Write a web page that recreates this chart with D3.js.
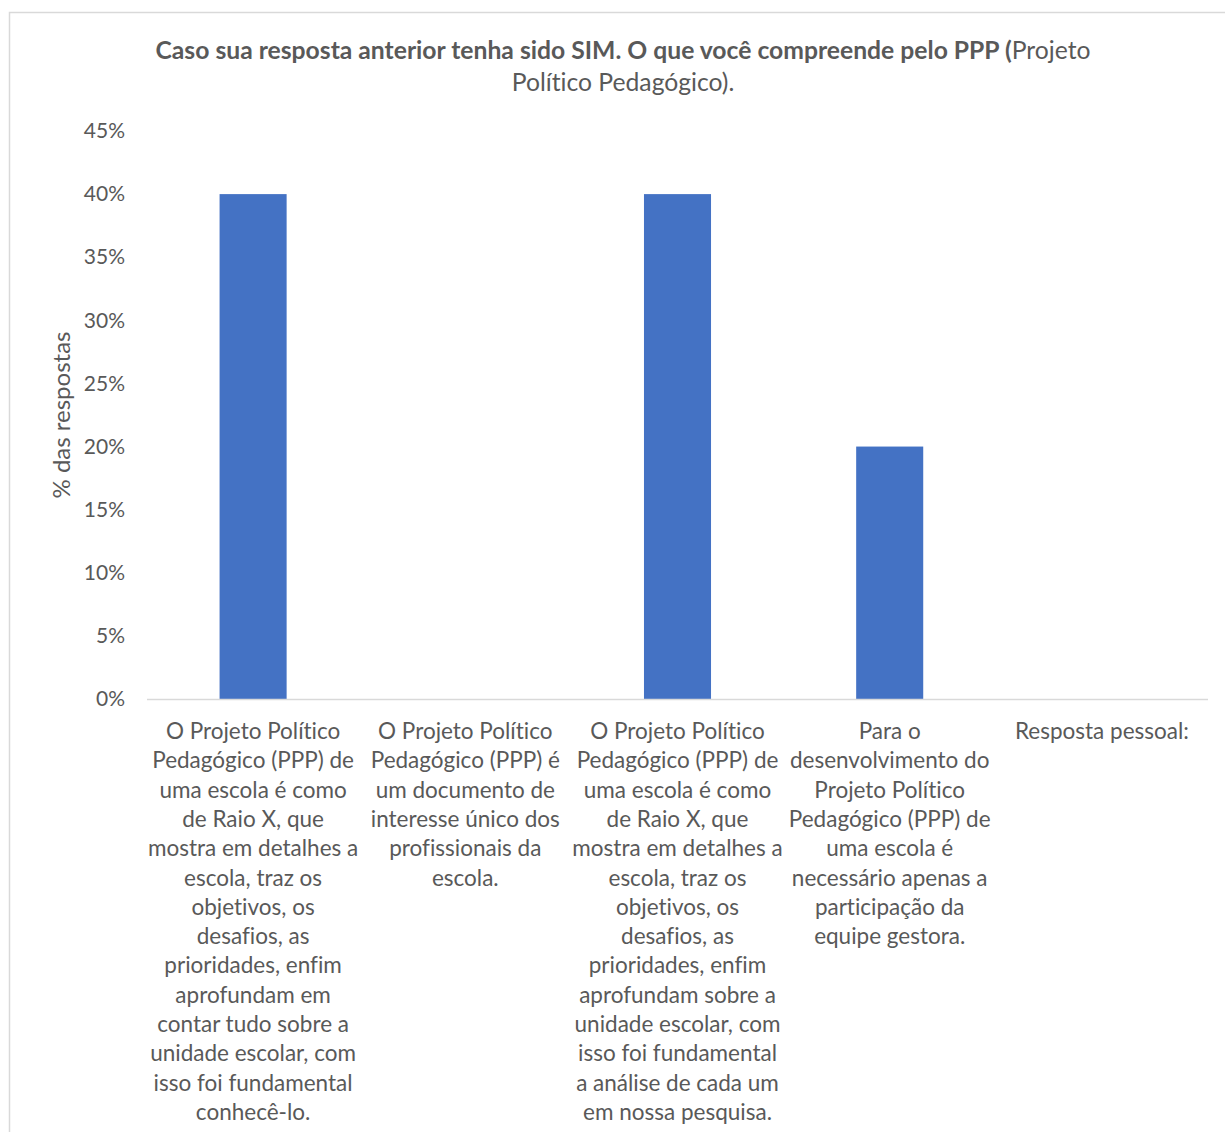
<!DOCTYPE html>
<html>
<head>
<meta charset="utf-8">
<script src="https://cdn.jsdelivr.net/npm/d3@7"></script>
<style>
  body { margin: 0; background: #fff; }
  svg { display: block; font-family: Lato, "Open Sans", sans-serif; font-variant-ligatures: none; }
</style>
</head>
<body>
<svg id="chart" width="1225" height="1132"></svg>
<script>
// Answer categories (wrapped lines as shown under each bar)
const categories = [
  ["O Projeto Político", "Pedagógico (PPP) de", "uma escola é como", "de Raio X, que", "mostra em detalhes a", "escola, traz os", "objetivos, os", "desafios, as", "prioridades, enfim", "aprofundam em", "contar tudo sobre a", "unidade escolar, com", "isso foi fundamental", "conhecê-lo."],
  ["O Projeto Político", "Pedagógico (PPP) é", "um documento de", "interesse único dos", "profissionais da", "escola."],
  ["O Projeto Político", "Pedagógico (PPP) de", "uma escola é como", "de Raio X, que", "mostra em detalhes a", "escola, traz os", "objetivos, os", "desafios, as", "prioridades, enfim", "aprofundam sobre a", "unidade escolar, com", "isso foi fundamental", "a análise de cada um", "em nossa pesquisa."],
  ["Para o", "desenvolvimento do", "Projeto Político", "Pedagógico (PPP) de", "uma escola é", "necessário apenas a", "participação da", "equipe gestora."],
  ["Resposta pessoal:"]
];
// Share of responses (%)
const values = [40, 0, 40, 20, 0];
const yTicks = [0, 5, 10, 15, 20, 25, 30, 35, 40, 45];
const titleBold = "Caso sua resposta anterior tenha sido SIM. O que você compreende pelo PPP (";
const titleRest1 = "Projeto";
const titleLine2 = "Político Pedagógico).";
const yTitle = "% das respostas";

const svg = d3.select("#chart");
const textColor = "#595959";
const plot = { left: 147, right: 1208, top: 131, bottom: 699 };

// Chart frame
svg.append("rect")
  .attr("x", 9.5).attr("y", 12.5)
  .attr("width", 1240).attr("height", 1140)
  .attr("fill", "#fff").attr("stroke", "#d9d9d9").attr("stroke-width", 1.5);

const idx = categories.map((_, i) => i);
const x = d3.scaleBand().domain(idx).range([plot.left, plot.right]).padding(0);
const y = d3.scaleLinear().domain([0, 45]).range([plot.bottom, plot.top]);
const barW = x.bandwidth() * 0.316;

// Bars
svg.append("g").selectAll("rect")
  .data(values)
  .join("rect")
  .attr("x", (d, i) => x(i) + (x.bandwidth() - barW) / 2)
  .attr("y", d => y(d))
  .attr("width", barW)
  .attr("height", d => y(0) - y(d))
  .attr("fill", "#4472C4");

// Category axis baseline
svg.append("line")
  .attr("x1", plot.left).attr("x2", plot.right)
  .attr("y1", y(0) + 0.5).attr("y2", y(0) + 0.5)
  .attr("stroke", "#d9d9d9").attr("stroke-width", 1.5);

// Value axis
const yAxis = svg.append("g")
  .attr("transform", `translate(${plot.left - 22},0)`)
  .call(d3.axisLeft(y).tickValues(yTicks).tickFormat(d => d + "%").tickSize(0).tickPadding(0));
yAxis.select(".domain").remove();
yAxis.selectAll("text")
  .attr("fill", textColor)
  .style("font-size", "21px")
  .style("font-family", "Lato, sans-serif");

// Category labels
const lineH = 29.3;
const catG = svg.append("g").selectAll("text")
  .data(categories)
  .join("text")
  .attr("text-anchor", "middle")
  .attr("fill", textColor)
  .style("font-size", "22.5px");
catG.each(function(lines, i) {
  d3.select(this).selectAll("tspan")
    .data(lines)
    .join("tspan")
    .attr("x", x(i) + x.bandwidth() / 2)
    .attr("y", (d, j) => 739 + j * lineH)
    .text(d => d);
});

// Y axis title
svg.append("text")
  .attr("transform", `translate(70,${(plot.top + plot.bottom) / 2}) rotate(-90)`)
  .attr("text-anchor", "middle")
  .attr("fill", textColor)
  .style("font-size", "24px")
  .text(yTitle);

// Chart title
const t1 = svg.append("text")
  .attr("x", 623).attr("y", 59)
  .attr("text-anchor", "middle")
  .attr("fill", textColor)
  .style("font-size", "24.7px");
t1.append("tspan").attr("font-weight", "bold").text(titleBold);
t1.append("tspan").text(titleRest1);
svg.append("text")
  .attr("x", 623).attr("y", 91)
  .attr("text-anchor", "middle")
  .attr("fill", textColor)
  .style("font-size", "24.7px")
  .text(titleLine2);
</script>
</body>
</html>
